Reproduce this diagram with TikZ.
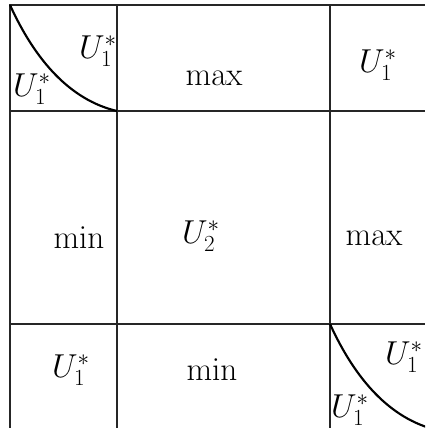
\documentclass[tikz,border=0pt]{standalone}
\begin{document}
\begin{tikzpicture}[x=0.75pt,y=-0.75pt,
  gridline/.style={line width=0.85pt, draw=black!85},
  curveline/.style={line width=1.6pt},
  lbl/.style={inner sep=0pt, font=\fontsize{24.5}{29}\selectfont}]
\useasboundingbox (0,0) rectangle (425,428);
\begin{scope}
\clip (0,0) rectangle (425,428);
% grid
\draw[gridline] (10,428) -- (10,5) -- (425,5);
\draw[gridline] (117,5) -- (117,428);
\draw[gridline] (330,5) -- (330,428);
\draw[gridline] (10,111) -- (425,111);
\draw[gridline] (10,324) -- (425,324);
% curves
\coordinate (a0) at (10,5);
\coordinate (a1) at (117,111);
\coordinate (b0) at (330,324);
\coordinate (b1) at (437,430);
\draw[curveline] (a0) .. controls (35,60) and (70,100) .. (a1);
\draw[curveline] (b0) .. controls (355,379) and (390,419) .. (b1);
\end{scope}
% labels
\node[lbl] (tlA) at (98,51) {$U_1^*$};
\node[lbl] (tlB) at (32,89) {$U_1^*$};
\node[lbl] (tmax) at (214,78) {$\max$};
\node[lbl] (tr) at (378,65) {$U_1^*$};
\node[lbl] (mmin) at (79,238) {$\min$};
\node[lbl] (mU) at (201,236) {$U_2^*$};
\node[lbl] (mmax) at (374,238) {$\max$};
\node[lbl] (bl) at (71,370) {$U_1^*$};
\node[lbl] (bmin) at (212,370) {$\min$};
\node[lbl] (brA) at (404,357) {$U_1^*$};
\node[lbl] (brB) at (350,410) {$U_1^*$};
\end{tikzpicture}
\end{document}
